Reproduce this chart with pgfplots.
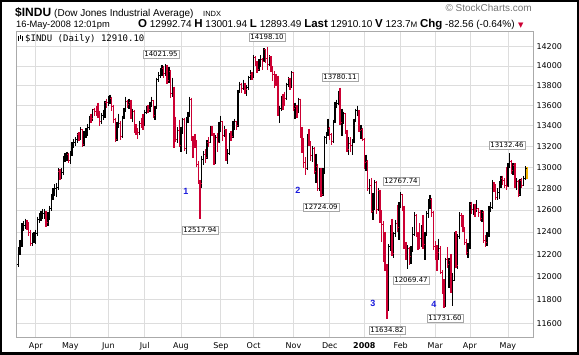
\documentclass[border=0pt]{standalone}
\usepackage{pgfplots}
\pgfplotsset{compat=1.18}
\usepackage{pgfplotstable}
\usepackage{fontspec}
\setmainfont{DejaVu Sans}
\newfontfamily\arial{Liberation Sans}
\newfontfamily\verd{DejaVu Sans}
\newfontfamily\mono{DejaVu Sans Mono}
\definecolor{upc}{RGB}{0,0,0}
\definecolor{dnc}{RGB}{204,0,51}
\definecolor{gridc}{RGB}{221,221,221}
\definecolor{framec}{RGB}{170,170,170}
\definecolor{lastc}{RGB}{240,180,0}
\definecolor{numblue}{RGB}{25,25,220}

\pgfplotstableread{
t o h l c
-10 12110 12260 12090 12226
-9 12226 12330 12190 12289
-8 12289 12480 12260 12447
-7 12447 12500 12410 12461
-6 12461 12520 12430 12481
-5 12481 12510 12420 12470
-4 12470 12490 12360 12397
-3 12397 12420 12270 12300
-2 12300 12390 12270 12350
-1 12350 12400 12300 12354
0 12354 12420 12290 12383
1 12383 12540 12360 12511
2 12511 12570 12480 12531
3 12531 12590 12500 12560
4 12560 12610 12520 12569
5 12569 12610 12520 12573
6 12573 12590 12440 12484
7 12484 12580 12450 12553
8 12553 12640 12510 12613
9 12613 12750 12590 12720
10 12720 12800 12690 12773
11 12773 12840 12730 12803
12 12803 12850 12720 12808
13 12808 12990 12790 12962
14 12962 12980 12880 12919
15 12919 12990 12890 12953
16 12953 13110 12930 13090
17 13090 13140 13050 13106
18 13106 13150 13060 13121
19 13121 13140 13040 13063
20 13063 13160 13030 13136
21 13136 13240 13110 13212
22 13212 13270 13180 13241
23 13241 13290 13200 13265
24 13265 13330 13230 13313
25 13313 13340 13250 13309
26 13309 13390 13260 13363
27 13363 13370 13190 13215
28 13215 13350 13200 13326
29 13326 13380 13280 13347
30 13347 13420 13300 13384
31 13384 13500 13360 13488
32 13488 13520 13430 13477
33 13477 13570 13450 13557
34 13557 13580 13500 13543
35 13543 13600 13500 13540
36 13540 13630 13480 13526
37 13526 13550 13400 13441
38 13441 13530 13420 13507
39 13507 13560 13460 13521
40 13521 13650 13480 13633
41 13633 13670 13580 13628
42 13628 13700 13600 13668
43 13668 13710 13620 13676
44 13676 13690 13550 13595
45 13595 13610 13430 13467
46 13467 13480 13240 13267
47 13267 13440 13250 13424
48 13424 13520 13380 13425
49 13425 13450 13260 13295
50 13295 13500 13280 13482
51 13482 13580 13470 13553
52 13553 13690 13540 13639
53 13639 13660 13580 13612
54 13612 13670 13570 13635
55 13635 13660 13470 13489
56 13489 13570 13440 13545
57 13545 13560 13330 13361
58 13361 13420 13310 13352
59 13352 13380 13270 13337
60 13337 13450 13310 13427
61 13427 13480 13380 13422
62 13422 13520 13360 13409
63 13409 13560 13400 13535
64 13535 13600 13520 13577
65 13577 13610 13530 13565
66 13565 13640 13540 13612
67 13612 13690 13590 13650
68 13650 13660 13480 13502
69 13502 13600 13460 13577
70 13577 13880 13570 13861
71 13861 13940 13840 13908
72 13908 13980 13880 13951
73 13951 14010 13900 13972
74 13972 14000 13880 13918
75 13918 14021.95 13900 14000
76 14000 14010 13820 13851
77 13851 13990 13830 13944
78 13944 13960 13680 13717
79 13717 13880 13690 13786
80 13786 13790 13180 13474
81 13474 13490 13240 13266
82 13266 13390 13230 13359
83 13359 13460 13190 13212
84 13212 13390 13150 13362
85 13362 13480 13320 13463
86 13463 13480 13160 13182
87 13182 13490 13130 13468
88 13468 13540 13430 13504
89 13504 13690 13490 13658
90 13658 13680 13250 13271
91 13271 13300 13090 13240
92 13240 13320 13180 13237
93 13237 13260 13000 13029
94 13029 13060 12840 12861
95 12861 12880 12517.94 12846
96 12846 13110 12800 13079
97 13079 13160 13020 13122
98 13122 13170 13040 13091
99 13091 13260 13080 13237
100 13237 13290 13190 13236
101 13236 13400 13230 13379
102 13379 13400 13300 13322
103 13322 13330 13020 13042
104 13042 13310 13030 13289
105 13289 13330 13150 13239
106 13239 13440 13230 13358
107 13358 13500 13340 13448
108 13448 13450 13250 13306
109 13306 13400 13290 13364
110 13364 13370 13060 13113
111 13113 13170 13030 13128
112 13128 13330 13120 13308
113 13308 13350 13250 13292
114 13292 13450 13280 13424
115 13424 13470 13360 13443
116 13443 13450 13360 13403
117 13403 13760 13390 13739
118 13739 13840 13730 13815
119 13815 13830 13730 13767
120 13767 13860 13760 13821
121 13821 13830 13720 13759
122 13759 13810 13700 13779
123 13779 13900 13760 13878
124 13878 13960 13860 13913
125 13913 13940 13860 13896
126 13896 14110 13880 14088
127 14088 14100 14000 14047
128 14047 14050 13930 13968
129 13968 14070 13950 14044
130 14044 14110 13990 14066
131 14066 14080 13960 14044
132 14044 14180 14040 14165
133 14165 14170 14030 14079
134 14079 14198.10 13960 14015
135 14015 14110 14000 14093
136 14093 14100 13940 13985
137 13985 14000 13850 13913
138 13913 13950 13780 13893
139 13893 13920 13800 13889
140 13889 13900 13500 13522
141 13522 13600 13430 13567
142 13567 13700 13550 13676
143 13676 13720 13560 13675
144 13675 13740 13600 13672
145 13672 13830 13660 13807
146 13807 13890 13790 13870
147 13870 13880 13760 13792
148 13792 13950 13780 13930
149 13930 13940 13550 13568
150 13568 13630 13470 13595
151 13595 13610 13480 13543
152 13543 13680 13530 13661
153 13661 13670 13280 13300
154 13300 13390 13140 13266
155 13266 13280 12990 13043
156 13043 13100 12930 12988
157 12988 13320 12970 13307
158 13307 13370 13200 13231
159 13231 13250 13060 13110
160 13110 13200 13050 13177
161 13177 13190 12940 12958
162 12958 13130 12850 13010
163 13010 13030 12780 12799
164 12799 12990 12780 12981
165 12981 12990 12724.09 12743
166 12743 12990 12730 12958
167 12958 13300 12940 13289
168 13289 13340 13220 13312
169 13312 13470 13300 13372
170 13372 13390 13260 13315
171 13315 13330 13210 13249
172 13249 13460 13230 13445
173 13445 13640 13430 13620
174 13620 13660 13580 13626
175 13626 13750 13610 13727
176 13727 13780.11 13410 13433
177 13433 13570 13300 13474
178 13474 13540 13420 13518
179 13518 13530 13320 13340
180 13340 13360 13150 13167
181 13167 13290 13120 13232
182 13232 13290 13150 13207
183 13207 13270 13120 13246
184 13246 13470 13230 13451
185 13451 13570 13440 13549
186 13549 13600 13500 13552
187 13552 13560 13340 13360
188 13360 13410 13270 13366
189 13366 13380 13250 13265
190 13265 13280 12980 13044
191 13044 13120 12960 13057
192 13057 13070 12780 12800
193 12800 12890 12750 12827
194 12827 12900 12570 12589
195 12589 12760 12510 12735
196 12735 12880 12600 12853
197 12853 12870 12560 12606
198 12606 12800 12590 12778
199 12778 12790 12480 12501
200 12501 12600 12310 12466
201 12466 12500 12130 12159
202 12159 12400 12050 12099
203 12099 12110 11634.82 11971
204 11971 12290 11700 12270
205 12270 12460 12230 12379
206 12379 12520 12180 12207
207 12207 12400 12170 12384
208 12384 12510 12350 12480
209 12480 12650 12400 12443
210 12443 12670 12330 12650
211 12650 12767.74 12620 12743
212 12743 12750 12590 12635
213 12635 12640 12250 12265
214 12265 12310 12150 12200
215 12200 12280 12069.47 12247
216 12247 12260 12100 12182
217 12182 12270 12110 12240
218 12240 12440 12220 12373
219 12373 12580 12360 12552
220 12552 12560 12350 12377
221 12377 12400 12240 12348
222 12348 12480 12250 12337
223 12337 12460 12260 12427
224 12427 12550 12250 12284
225 12284 12400 12150 12381
226 12381 12590 12360 12570
227 12570 12700 12530 12685
228 12685 12740 12610 12694
229 12694 12710 12540 12582
230 12582 12590 12240 12266
231 12266 12320 12150 12259
232 12259 12280 12050 12214
233 12214 12340 12150 12255
234 12255 12270 12020 12040
235 12040 12060 11850 11894
236 11894 11980 11731.60 11740
237 11740 12170 11750 12157
238 12157 12260 12080 12110
239 12110 12170 11900 12146
240 12146 12200 11860 11951
241 11951 12030 11750 11972
242 11972 12400 11960 12393
243 12393 12410 12080 12100
244 12100 12380 12070 12361
245 12361 12580 12340 12549
246 12549 12570 12440 12533
247 12533 12550 12400 12423
248 12423 12440 12280 12302
249 12302 12340 12190 12216
250 12216 12300 12170 12263
251 12263 12670 12250 12654
252 12654 12670 12560 12609
253 12609 12660 12550 12626
254 12626 12660 12540 12609
255 12609 12690 12580 12612
256 12612 12620 12540 12576
257 12576 12600 12500 12527
258 12527 12600 12490 12582
259 12582 12590 12300 12325
260 12325 12370 12260 12302
261 12302 12400 12270 12362
262 12362 12640 12350 12619
263 12619 12670 12580 12620
264 12620 12880 12610 12849
265 12849 12860 12770 12825
266 12825 12840 12690 12720
267 12720 12800 12690 12763
268 12763 12870 12700 12849
269 12849 12920 12800 12892
270 12892 12920 12830 12872
271 12872 12900 12800 12831
272 12831 13000 12790 12820
273 12820 13040 12810 13010
274 13010 13132.46 12990 13058
275 13058 13070 12940 12970
276 12970 13040 12930 13021
277 13021 13040 12800 12814
278 12814 12900 12790 12867
279 12867 12880 12720 12746
280 12746 12890 12730 12876
281 12876 12900 12800 12832
282 12832 12920 12820 12898
283 12898 13010 12880 12993
}\bars

\pgfplotstableread{
t o h l c
284 12992.74 13001.94 12893.49 12910.10
}\lastbar

\begin{document}
\begin{tikzpicture}
\useasboundingbox (-16pt,-18pt) rectangle (563pt,337pt);
\begin{axis}[
  scale only axis, width=517pt, height=306pt,
  at={(0pt,0pt)}, anchor=south west,
  ymode=log,
  xmin=-11.4, xmax=287.5, ymin=11484.5, ymax=14363.8,
  ytick={11600,11800,12000,12200,12400,12600,12800,13000,13200,13400,13600,13800,14000,14200},
  yticklabels={11600,11800,12000,12200,12400,12600,12800,13000,13200,13400,13600,13800,14000,14200},
  yticklabel pos=right,
  xtick={0,20,42,63,84,107,126,149,170,190,211,231,251,273},
  xticklabels={Apr,May,Jun,Jul,Aug,Sep,Oct,Nov,Dec,\textbf{2008},Feb,Mar,Apr,May},
  grid=major, major grid style={gridc, line width=0.6pt},
  major tick length=0pt,
  axis line style={framec, line width=0.6pt},
  tick label style={font=\verd\fontsize{8}{9}\selectfont, text=black},
  xticklabel style={yshift=-2pt},
  clip=true,
]
% up bars (close >= previous close)
\addplot[draw=none, mark=none, forget plot,
  restrict expr to domain={\thisrow{c}-\thisrow{o}}{0:100000},
  error bars/.cd, y dir=minus, y explicit, error mark=none,
  error bar style={draw=upc, line width=1.35pt}]
  table[x=t, y=h, y error expr=\thisrow{h}-\thisrow{l}] {\bars};
% down bars
\addplot[draw=none, mark=none, forget plot,
  restrict expr to domain={\thisrow{c}-\thisrow{o}}{-100000:-0.001},
  error bars/.cd, y dir=minus, y explicit, error mark=none,
  error bar style={draw=dnc, line width=1.35pt}]
  table[x=t, y=h, y error expr=\thisrow{h}-\thisrow{l}] {\bars};
% open and close ticks
\addplot[draw=none, mark=-, mark size=0.7pt, forget plot,
  mark options={draw=upc, line width=0.8pt, xshift=0.8pt},
  restrict expr to domain={\thisrow{c}-\thisrow{o}}{0:100000}]
  table[x=t, y=c] {\bars};
\addplot[draw=none, mark=-, mark size=0.7pt, forget plot,
  mark options={draw=upc, line width=0.8pt, xshift=-0.8pt},
  restrict expr to domain={\thisrow{c}-\thisrow{o}}{0:100000}]
  table[x=t, y=o] {\bars};
\addplot[draw=none, mark=-, mark size=0.7pt, forget plot,
  mark options={draw=dnc, line width=0.8pt, xshift=0.8pt},
  restrict expr to domain={\thisrow{c}-\thisrow{o}}{-100000:-0.001}]
  table[x=t, y=c] {\bars};
\addplot[draw=none, mark=-, mark size=0.7pt, forget plot,
  mark options={draw=dnc, line width=0.8pt, xshift=-0.8pt},
  restrict expr to domain={\thisrow{c}-\thisrow{o}}{-100000:-0.001}]
  table[x=t, y=o] {\bars};
% last bar
\addplot[draw=none, mark=none, forget plot,
  error bars/.cd, y dir=minus, y explicit, error mark=none,
  error bar style={draw=lastc, line width=1.8pt}]
  table[x=t, y=h, y error expr=\thisrow{h}-\thisrow{l}] {\lastbar};
\end{axis}

% outer frame
\draw[black, line width=2.5pt] (-14.75pt,-16.75pt) rectangle (561.75pt,335.75pt);

% header
\node[anchor=base west, inner sep=0, font=\arial\bfseries\fontsize{12}{14}\selectfont] at (-1pt,320.5pt) {\$INDU};
\node[anchor=base west, inner sep=0, font=\arial\fontsize{10}{12}\selectfont] at (38pt,320.5pt) {(Dow Jones Industrial Average)};
\node[anchor=base west, inner sep=0, font=\arial\fontsize{7.5}{9}\selectfont] at (187pt,320.5pt) {INDX};
\node[anchor=base west, inner sep=0, font=\arial\fontsize{9.3}{11}\selectfont] at (0pt,309.7pt) {16-May-2008 12:01pm};
\node[anchor=base west, inner sep=0, font=\arial\fontsize{10}{12}\selectfont] at (122pt,309.7pt)
  {{\bfseries\fontsize{11.5}{12}\selectfont O} 12992.74 {\bfseries\fontsize{11.5}{12}\selectfont H} 13001.94 {\bfseries\fontsize{11.5}{12}\selectfont L} 12893.49 {\bfseries\fontsize{11.5}{12}\selectfont Last} 12910.10 {\bfseries\fontsize{11.5}{12}\selectfont V} 123.7{\fontsize{8}{9}\selectfont M} {\bfseries\fontsize{11.5}{12}\selectfont Chg} -82.56 (-0.64\%)\,\,{\verd\fontsize{7}{8}\selectfont\color{dnc}▼}};
\node[anchor=base east, inner sep=0, font=\arial\fontsize{10}{11}\selectfont, text=black!55] at (516pt,325pt) {© StockCharts.com};

% legend
\draw[line width=0.8pt] (2.5pt,296pt)--(2.5pt,301pt) (4.5pt,297.5pt)--(4.5pt,302pt) (6.5pt,295.5pt)--(6.5pt,300.5pt);
\node[anchor=base west, inner sep=0, font=\mono\fontsize{9}{10}\selectfont] at (9pt,295pt) {\$INDU (Daily) 12910.10};

% value labels
\tikzset{vl/.style={draw=black!35, fill=white, inner sep=1.3pt, line width=0.5pt, font=\verd\fontsize{7}{8}\selectfont}}
\node[vl] at (145pt,283pt) {14021.95};
\node[vl] at (251pt,300pt) {14198.10};
\node[vl] at (324pt,260pt) {13780.11};
\node[vl] at (491pt,192pt) {13132.46};
\node[vl] at (184pt,107pt) {12517.94};
\node[vl] at (305pt,130pt) {12724.09};
\node[vl] at (385pt,156pt) {12767.74};
\node[vl] at (395pt,57pt) {12069.47};
\node[vl] at (371pt,7pt) {11634.82};
\node[vl] at (429pt,19pt) {11731.60};

% wave numbers
\tikzset{wn/.style={text=numblue, inner sep=0, font=\arial\bfseries\fontsize{9}{10}\selectfont}}
\node[wn] at (170pt,146pt) {1};
\node[wn] at (282pt,147pt) {2};
\node[wn] at (357pt,34pt) {3};
\node[wn] at (418pt,33pt) {4};
\end{tikzpicture}
\end{document}
